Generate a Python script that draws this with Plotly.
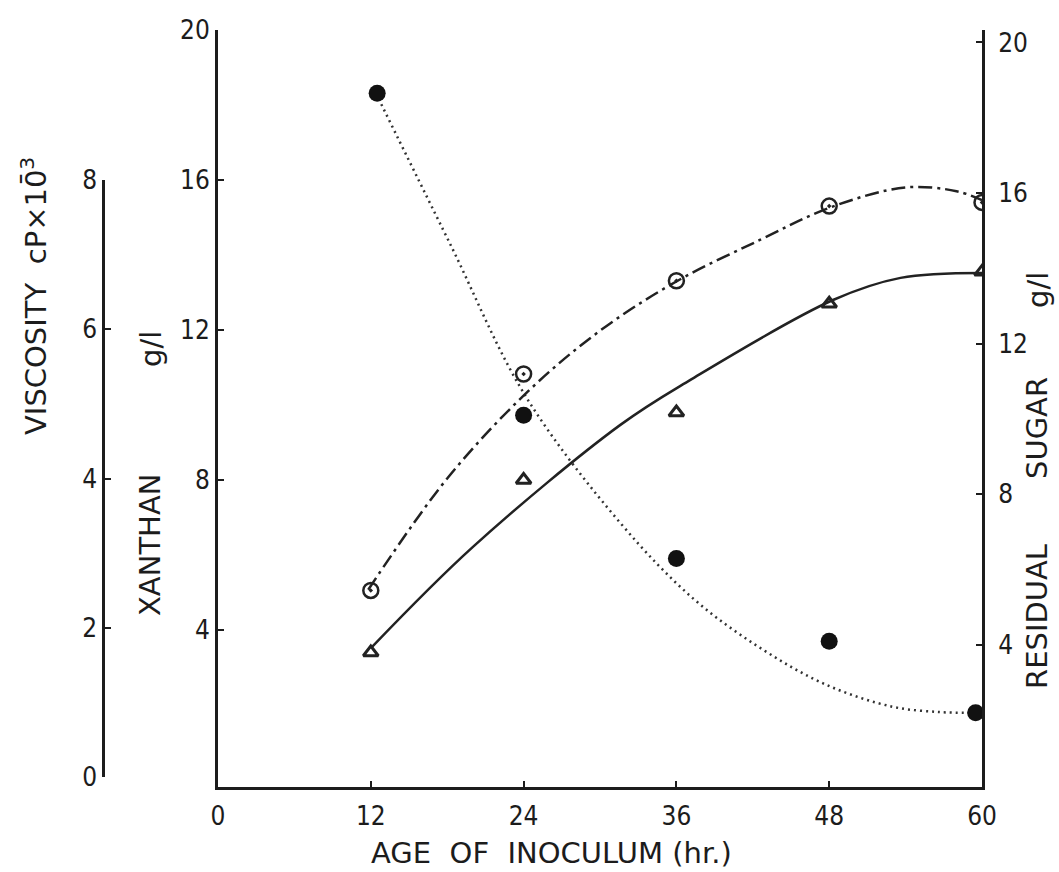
import plotly.graph_objects as go

# Measured points
hours = [12, 24, 36, 48, 60]
sugar_hours = [12.5, 24, 36, 48, 59.5]
xanthan = [3.4, 8.0, 9.8, 12.7, 13.55]          # g/l, left axis (triangles)
viscosity = [2.5, 5.4, 6.65, 7.65, 7.7]          # cP x 10^-3, outer axis (open circles)
residual_sugar = [18.65, 10.1, 6.3, 4.1, 2.2]    # g/l, right axis (filled circles)

# Hand-fitted trend curves
xanthan_fit_h = [12.1, 20.0, 31.6, 37.1, 48.3, 53.6, 60]
xanthan_fit = [3.55, 6.21, 9.47, 10.67, 12.8, 13.39, 13.52]
viscosity_fit_h = [11.8, 18, 24.3, 30, 36.1, 42.6, 48.2, 54, 58, 60]
viscosity_fit = [2.51, 4.0, 5.16, 5.98, 6.65, 7.2, 7.64, 7.9, 7.85, 7.73]
sugar_fit_h = [12.4, 18.2, 24.1, 31.6, 37.3, 42.6, 47.8, 53.0, 56.7, 59.2]
sugar_fit = [18.65, 14.67, 10.64, 7.24, 5.24, 3.92, 2.94, 2.36, 2.22, 2.2]

x_ticks = [0, 12, 24, 36, 48, 60]
g_ticks = [4, 8, 12, 16, 20]
visc_ticks = [0, 2, 4, 6, 8]

W, H = 1059, 872
FONT = "DejaVu Sans Condensed, Liberation Sans Narrow, DejaVu Sans, sans-serif"
TITLE_FONT = "DejaVu Sans, sans-serif"
INK = "#1c1c1c"

fig = go.Figure()

# trend curves
fig.add_trace(go.Scatter(x=sugar_fit_h, y=sugar_fit, mode="lines", yaxis="y2",
                         line=dict(shape="spline", color="#333", width=2.5, dash="2px,4px"),
                         showlegend=False, hoverinfo="skip"))
fig.add_trace(go.Scatter(x=viscosity_fit_h, y=viscosity_fit, mode="lines", yaxis="y3",
                         line=dict(shape="spline", color="#222", width=2.5, dash="14px,5px,3px,5px"),
                         showlegend=False, hoverinfo="skip"))
fig.add_trace(go.Scatter(x=xanthan_fit_h, y=xanthan_fit, mode="lines", yaxis="y",
                         line=dict(shape="spline", color="#222", width=2.5),
                         showlegend=False, hoverinfo="skip"))

# data markers
fig.add_trace(go.Scatter(x=sugar_hours, y=residual_sugar, mode="markers", yaxis="y2",
                         marker=dict(symbol="circle", size=17, color="#111"),
                         name="Residual sugar", showlegend=False))
fig.add_trace(go.Scatter(x=hours, y=viscosity, mode="markers", yaxis="y3",
                         marker=dict(symbol="circle-open-dot", size=15, color="#222",
                                     line=dict(width=2.5, color="#222")),
                         name="Viscosity", showlegend=False))
fig.add_trace(go.Scatter(x=hours, y=xanthan, mode="markers", yaxis="y",
                         marker=dict(symbol="triangle-up-open", size=13, color="#222",
                                     line=dict(width=3, color="#222")),
                         name="Xanthan", showlegend=False))

px_x = lambda p: p / W
px_y = lambda p: (H - p) / H

axis_common = dict(showgrid=False, zeroline=False, showline=True, linecolor=INK,
                   ticks="inside", ticklen=6, tickwidth=2, tickcolor=INK,
                   tickfont=dict(family=FONT, size=26, color=INK))

fig.update_layout(
    width=W, height=H, autosize=False,
    margin=dict(l=0, r=0, t=0, b=0, autoexpand=False),
    paper_bgcolor="white", plot_bgcolor="rgba(0,0,0,0)",
    xaxis=dict(domain=[px_x(218), px_x(982)], range=[0, 60], tickvals=x_ticks,
               linewidth=3, anchor="y", ticklabelstandoff=4, **axis_common),
    yaxis=dict(domain=[px_y(787), px_y(30)], range=[-0.187, 20.0], tickvals=g_ticks,
               linewidth=3, anchor="x", **axis_common),
    yaxis2=dict(overlaying="y", side="right", range=[0.231, 20.33], tickvals=g_ticks,
                linewidth=3, anchor="x", ticklabelstandoff=8, **axis_common),
    yaxis3=dict(domain=[px_y(777), px_y(180)], range=[0, 8], tickvals=visc_ticks,
                anchor="free", position=px_x(103), side="left", linewidth=2.5,
                **axis_common),
)

title_font = dict(family=TITLE_FONT, size=29, color=INK)
annotations = [
    dict(text="VISCOSITY  cP\u00d710\u0304<sup>3</sup>", x=px_x(34), y=px_y(296), textangle=-90),
    dict(text="XANTHAN", x=px_x(150), y=px_y(545), textangle=-90),
    dict(text="g/l", x=px_x(151), y=px_y(349), textangle=-90),
    dict(text="RESIDUAL", x=px_x(1037), y=px_y(617), textangle=-90),
    dict(text="SUGAR", x=px_x(1037), y=px_y(428), textangle=-90),
    dict(text="g/l", x=px_x(1038), y=px_y(290), textangle=-90),
    dict(text="AGE  OF  INOCULUM (hr.)", x=px_x(551), y=px_y(853), textangle=0),
]
for a in annotations:
    fig.add_annotation(xref="paper", yref="paper", showarrow=False,
                       xanchor="center", yanchor="middle", font=title_font, **a)

fig.write_html("out.html", config={"responsive": False})
